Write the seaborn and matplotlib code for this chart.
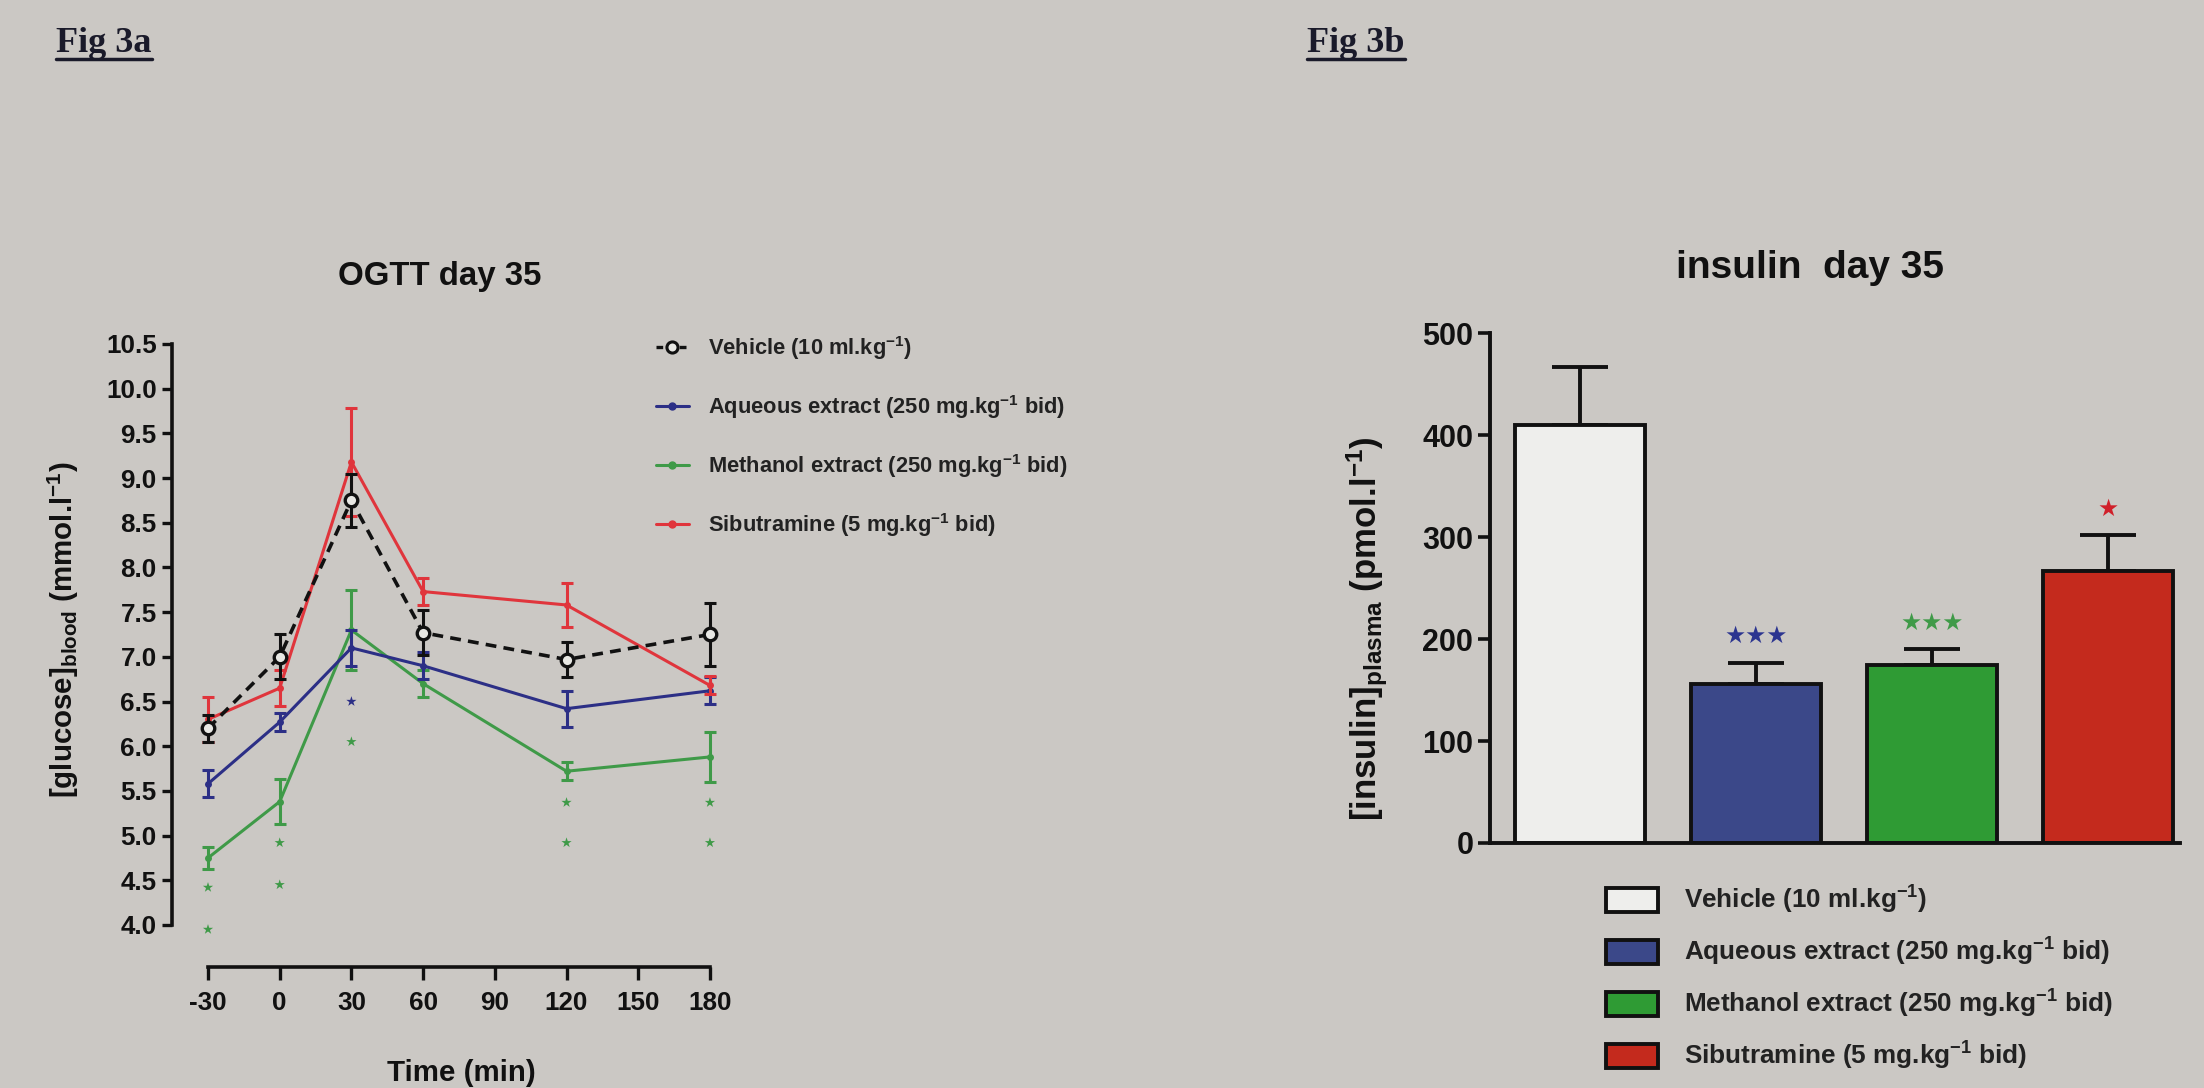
import numpy as np
import pandas as pd
import matplotlib
matplotlib.use("Agg")
import matplotlib.pyplot as plt
from matplotlib import font_manager
from matplotlib.lines import Line2D
from matplotlib.patches import Patch
import seaborn as sns

# ---- Fig 3a : OGTT day 35 ----
times = [-30, 0, 30, 60, 120, 180]
time_ticks = [-30, 0, 30, 60, 90, 120, 150, 180]
groups = ['Vehicle', 'Aqueous', 'Methanol', 'Sibutramine']
legend_labels = ['Vehicle (10 ml.kg$^{-1}$)',
                 'Aqueous extract (250 mg.kg$^{-1}$ bid)',
                 'Methanol extract (250 mg.kg$^{-1}$ bid)',
                 'Sibutramine (5 mg.kg$^{-1}$ bid)']

vehicle = [6.2, 7.0, 8.75, 7.27, 6.97, 7.25]
vehicle_sem = [0.15, 0.25, 0.3, 0.25, 0.2, 0.35]
aqueous = [5.58, 6.27, 7.1, 6.9, 6.42, 6.62]
aqueous_sem = [0.15, 0.1, 0.2, 0.15, 0.2, 0.15]
methanol = [4.75, 5.38, 7.3, 6.7, 5.72, 5.88]
methanol_sem = [0.12, 0.25, 0.45, 0.15, 0.1, 0.28]
sibutramine = [6.3, 6.65, 9.18, 7.73, 7.58, 6.68]
sibutramine_sem = [0.25, 0.2, 0.6, 0.15, 0.25, 0.1]

# significance marks drawn under the curves
star_times = [-30, -30, 0, 0, 30, 30, 120, 120, 180, 180]
star_levels = [4.42, 3.95, 4.92, 4.45, 6.5, 6.05, 5.37, 4.92, 5.37, 4.92]
star_groups = ['Methanol', 'Methanol', 'Methanol', 'Methanol', 'Aqueous',
               'Methanol', 'Methanol', 'Methanol', 'Methanol', 'Methanol']

# ---- Fig 3b : insulin day 35 ----
insulin = [410, 156, 175, 267]
insulin_sem = [57, 21, 15, 35]
bar_stars = ['', '\u2605\u2605\u2605', '\u2605\u2605\u2605', '\u2605']

line_colors = {'Vehicle': '#111111', 'Aqueous': '#2c2f86',
               'Methanol': '#3f9a48', 'Sibutramine': '#e0353c'}
bar_colors = ['#eeeeec', '#3b4889', '#2f9b34', '#c42a1d']
star_colors = ['#000000', '#2c3590', '#3f9a48', '#d0202a']
bg = '#cbc8c4'

sns.set_theme(style='ticks')
installed = {f.name for f in font_manager.fontManager.ttflist}
NARROW = 'Liberation Sans Narrow' if 'Liberation Sans Narrow' in installed else 'Liberation Sans'
shrink = 1.0 if NARROW == 'Liberation Sans Narrow' else 0.85
plt.rcParams['font.family'] = [NARROW, 'DejaVu Sans']
plt.rcParams['font.weight'] = 'bold'
plt.rcParams['mathtext.fontset'] = 'custom'
plt.rcParams['mathtext.rm'] = NARROW + ':bold'
plt.rcParams['mathtext.bf'] = NARROW + ':bold'
plt.rcParams['mathtext.it'] = NARROW + ':bold'

W, H = 2204, 1088
fig = plt.figure(figsize=(W / 100, H / 100), dpi=100)
fig.patch.set_facecolor(bg)

def fx(px):
    return px / W

def fy(py):
    return 1 - py / H

# left axes: y axis at px 172, x axis at px 967
ax1 = fig.add_axes([fx(172), fy(967), fx(725) - fx(172), fy(339.5) - fy(967)])
ax2 = fig.add_axes([fx(1490), fy(843), fx(2180) - fx(1490), fy(323) - fy(843)])
for ax in (ax1, ax2):
    ax.set_facecolor(bg)

rows = []
series = {'Vehicle': (vehicle, vehicle_sem), 'Aqueous': (aqueous, aqueous_sem),
          'Methanol': (methanol, methanol_sem), 'Sibutramine': (sibutramine, sibutramine_sem)}
for g in groups:
    vals, sems = series[g]
    for t, v, s in zip(times, vals, sems):
        rows.append({'group': g, 'time': t, 'glucose': v, 'sem': s})
ogtt = pd.DataFrame(rows)

zorders = {'Vehicle': 5, 'Aqueous': 3, 'Methanol': 2, 'Sibutramine': 4}
for g in ['Methanol', 'Aqueous', 'Sibutramine', 'Vehicle']:
    d = ogtt[ogtt.group == g]
    c = line_colors[g]
    ax1.errorbar(d.time, d.glucose, yerr=d['sem'], fmt='none', ecolor=c,
                 elinewidth=2.2, capsize=4, capthick=2.2, zorder=zorders[g])
    if g == 'Vehicle':
        sns.lineplot(data=d, x='time', y='glucose', ax=ax1, color=c, lw=2.6,
                     linestyle=(0, (3, 2)), marker='o', markersize=9,
                     markerfacecolor='#e8e8e4', markeredgecolor=c,
                     markeredgewidth=2.4, zorder=zorders[g] + 1)
    else:
        sns.lineplot(data=d, x='time', y='glucose', ax=ax1, color=c, lw=2.2,
                     marker='o', markersize=5, markeredgewidth=0,
                     zorder=zorders[g])

sns.scatterplot(x=star_times, y=star_levels, hue=star_groups, palette=line_colors,
                marker='*', s=60, linewidth=0, legend=False, ax=ax1, zorder=6)

ax1.set_xlim(-45.06, 186.3)
ax1.set_ylim(3.53, 10.55)
ax1.set_xticks(time_ticks)
ax1.set_xticklabels([str(t) for t in time_ticks])
yt = np.arange(4.0, 10.51, 0.5)
ax1.set_yticks(yt)
ax1.set_yticklabels([f'{v:.1f}' for v in yt])
ax1.spines['left'].set_bounds(4.0, 10.5)
ax1.spines['bottom'].set_bounds(-30, 180)
for s in ('top', 'right'):
    ax1.spines[s].set_visible(False)
for s in ('left', 'bottom'):
    ax1.spines[s].set_linewidth(2.6)
    ax1.spines[s].set_color('#111111')
ax1.tick_params(axis='y', length=7, width=2.4, pad=4, labelsize=22 * shrink, colors='#111111')
ax1.tick_params(axis='x', length=9, width=2.4, pad=8, labelsize=22 * shrink, colors='#111111')
ax1.set_xlabel('')
ax1.set_ylabel('')

fig.text(fx(440), fy(277), 'OGTT day 35', ha='center', va='center',
         fontsize=28 * shrink, color='#111111')
fig.text(fx(461), fy(1073), 'Time (min)', ha='center', va='center',
         fontsize=25 * shrink, color='#111111')
fig.text(fx(63), fy(630), '[glucose]$_{\\mathrm{blood}}$ (mmol.l$^{\\mathrm{-1}}$)',
         ha='center', va='center', rotation=90, fontsize=25 * shrink, color='#111111')

handles = []
for g in groups:
    if g == 'Vehicle':
        handles.append(Line2D([], [], color=line_colors[g], lw=2.4, linestyle=(0, (2, 1.5)),
                              marker='o', markersize=8, markerfacecolor='#e8e8e4',
                              markeredgewidth=2.2))
    else:
        handles.append(Line2D([], [], color=line_colors[g], lw=2.2, marker='o',
                              markersize=5))
fig.legend(handles, legend_labels, loc='upper left', bbox_to_anchor=(fx(656), fy(334)),
           frameon=False, fontsize=18.5 * shrink, handlelength=1.5, handletextpad=0.9,
           labelspacing=1.42, borderpad=0, borderaxespad=0, labelcolor='#222222')

# ---- right panel ----
sns.barplot(x=groups, y=insulin, hue=groups, palette=bar_colors, order=groups,
            hue_order=groups, legend=False, width=0.74, edgecolor='#111111',
            linewidth=2.8, saturation=1, ax=ax2, zorder=2)
xs = np.arange(len(groups))
ax2.errorbar(xs, insulin, yerr=[np.zeros(len(groups)), insulin_sem], fmt='none',
             ecolor='#111111', elinewidth=2.8, capsize=20, capthick=2.8, zorder=1)
for i, (v, e, st) in enumerate(zip(insulin, insulin_sem, bar_stars)):
    if st:
        ax2.text(i, v + e + 26, st, ha='center', va='center', color=star_colors[i],
                 fontsize=17, family='DejaVu Sans')

ax2.set_xlim(-0.511, 3.41)
ax2.set_ylim(0, 510)
ax2.set_yticks([0, 100, 200, 300, 400, 500])
ax2.set_xticks([])
ax2.spines['left'].set_bounds(0, 500)
for s in ('top', 'right'):
    ax2.spines[s].set_visible(False)
for s in ('left', 'bottom'):
    ax2.spines[s].set_linewidth(2.8)
    ax2.spines[s].set_color('#111111')
ax2.tick_params(axis='y', length=9, width=2.6, pad=3, labelsize=22, colors='#111111')
for lab in ax2.get_yticklabels():
    lab.set_fontfamily('Liberation Sans')
ax2.set_xlabel('')
ax2.set_ylabel('')

fig.text(fx(1810), fy(268), 'insulin  day 35', ha='center', va='center',
         fontsize=28, family='Liberation Sans', color='#111111')
fig.text(fx(1367), fy(629), '[insulin]$_{\\mathrm{plasma}}$ (pmol.l$^{\\mathrm{-1}}$)',
         ha='center', va='center', rotation=90, fontsize=25, family='Liberation Sans',
         color='#111111')

patches = [Patch(facecolor=c, edgecolor='#111111', linewidth=2.8) for c in bar_colors]
leg2 = fig.legend(patches, legend_labels, loc='upper left',
                  bbox_to_anchor=(fx(1606), fy(884)), frameon=False,
                  handlelength=2.0, handleheight=1.0, handletextpad=1.0,
                  labelspacing=0.76, borderpad=0, borderaxespad=0,
                  prop={'family': 'Liberation Sans', 'weight': 'bold', 'size': 18.8})
for t in leg2.get_texts():
    t.set_color('#222222')

# ---- panel tags ----
tags = []
for x, s in [(56, 'Fig 3a'), (1307, 'Fig 3b')]:
    t = fig.text(fx(x), fy(52), s, ha='left', va='baseline', fontsize=26,
                 family='Liberation Serif', weight='bold', color='#1a1a2a')
    tags.append(t)
fig.canvas.draw()
r = fig.canvas.get_renderer()
for t in tags:
    bb = t.get_window_extent(r)
    fig.add_artist(Line2D([bb.x0 / W, bb.x1 / W], [fy(59), fy(59)], color='#1a1a2a',
                          lw=2.5, transform=fig.transFigure))

fig.savefig('out.png', dpi=100, facecolor=bg)
